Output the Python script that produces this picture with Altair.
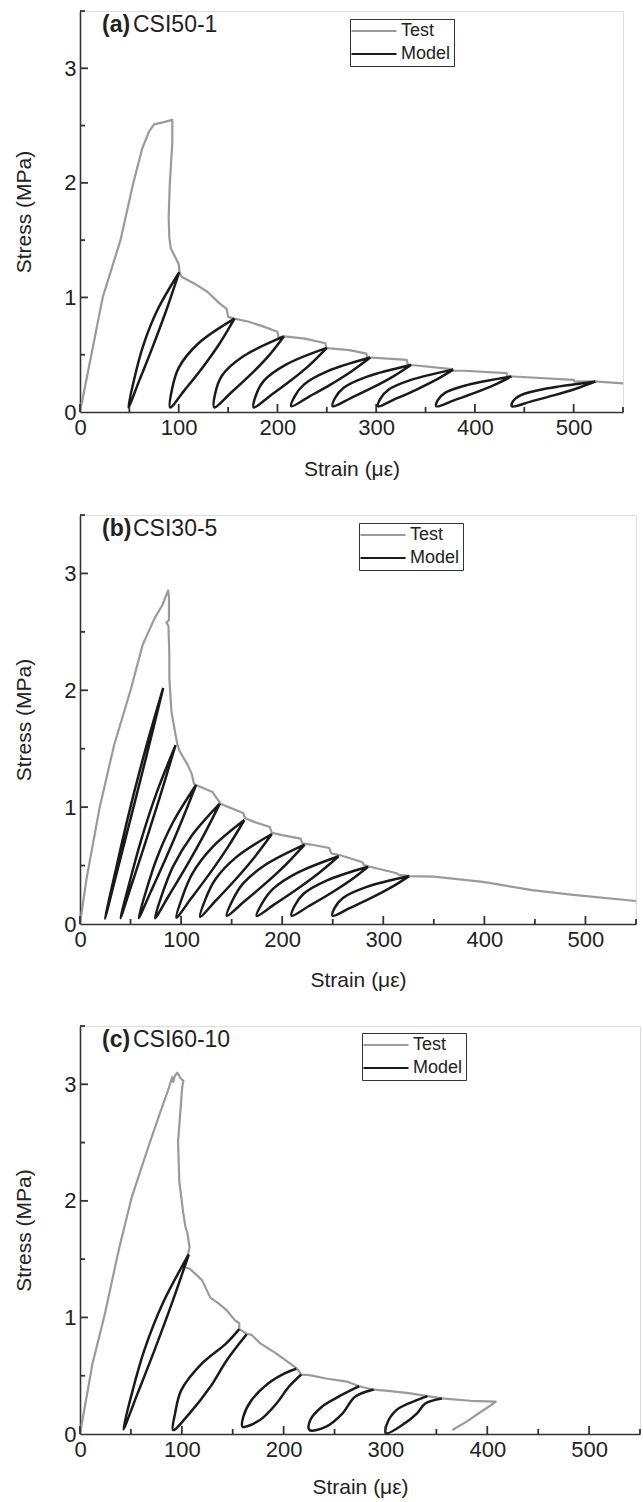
import altair as alt
import pandas as pd

FONT = "Liberation Sans"
TEXT_COLOR = "#222222"
AXIS_COLOR = "#333333"
TEST_COLOR = "#9a9a9a"
MODEL_COLOR = "#1a1a1a"

X_MAJOR = [0, 100, 200, 300, 400, 500]
X_MINOR = [50, 150, 250, 350, 450, 550]
Y_MAJOR = [0, 1, 2, 3]
Y_MINOR = [0.5, 1.5, 2.5, 3.5]

# ---------------- (a) CSI50-1 ----------------
test_a = [
    (0, 0), (23, 1.0), (41, 1.5), (54, 2.0), (63, 2.3), (70, 2.45),
    (75, 2.51), (85, 2.53), (93.5, 2.55), (93.5, 2.35), (91, 2.0), (89.8, 1.7),
    (90.5, 1.52), (92, 1.43), (96, 1.36), (100, 1.29), (101, 1.21), (103, 1.18),
    (116, 1.12), (129, 1.05), (141, 0.95), (148.6, 0.9), (150, 0.83), (156.5, 0.815),
    (170, 0.79), (186, 0.745), (200, 0.70), (201, 0.65), (207, 0.66), (228, 0.64),
    (248.6, 0.60), (249.5, 0.56), (253, 0.556), (273, 0.54), (290, 0.51), (291, 0.475),
    (296, 0.475), (331, 0.455), (332, 0.415), (336, 0.41), (376.6, 0.375), (378, 0.36),
    (389, 0.36), (432, 0.34), (433, 0.31), (438.5, 0.31), (500, 0.28), (501, 0.265),
    (521, 0.267), (550, 0.25),
]
model_a = [
    [(100.5, 1.22), (78.4, 0.89), (63.7, 0.571), (54.6, 0.276), (49, 0.04), (60.1, 0.276), (73.7, 0.571), (87.5, 0.89), (100.5, 1.22)],
    [(156.5, 0.815), (119.8, 0.598), (100.2, 0.389), (93.1, 0.195), (91.3, 0.04), (106.3, 0.195), (124.2, 0.389), (141.4, 0.598), (156.5, 0.815)],
    [(206.5, 0.66), (165.4, 0.486), (143.9, 0.319), (137.0, 0.164), (136, 0.04), (152.4, 0.164), (171.9, 0.319), (190.6, 0.486), (206.5, 0.66)],
    [(250, 0.56), (208.6, 0.414), (186.4, 0.274), (178.1, 0.144), (176, 0.04), (193.0, 0.144), (213.4, 0.274), (233.0, 0.414), (250, 0.56)],
    [(294, 0.475), (250.9, 0.356), (227.1, 0.241), (217.3, 0.135), (214, 0.05), (232.2, 0.135), (254.1, 0.241), (275.2, 0.356), (294, 0.475)],
    [(335.3, 0.41), (290.9, 0.309), (267.1, 0.212), (258.3, 0.122), (256, 0.05), (274.3, 0.122), (296.1, 0.212), (317.0, 0.309), (335.3, 0.41)],
    [(378, 0.37), (335.3, 0.28), (312.4, 0.194), (304.1, 0.114), (302, 0.05), (319.5, 0.114), (340.4, 0.194), (360.5, 0.28), (378, 0.37)],
    [(437, 0.31), (392.8, 0.237), (369.7, 0.167), (362.2, 0.102), (361, 0.05), (378.7, 0.102), (399.7, 0.167), (419.8, 0.237), (437, 0.31)],
    [(522, 0.265), (472.3, 0.205), (446.6, 0.147), (438.5, 0.093), (437.5, 0.05), (457.2, 0.093), (480.6, 0.147), (502.9, 0.205), (522, 0.265)],
]

# ---------------- (b) CSI30-5 ----------------
test_b = [
    (0, 0), (6.5, 0.39), (19.5, 1.0), (33.7, 1.53), (50, 2.0), (62, 2.39), (74, 2.62),
    (81.5, 2.73), (87.2, 2.855), (88, 2.8), (88, 2.6), (85.5, 2.58), (87.5, 2.55),
    (88.4, 2.3), (88.4, 2.1), (90.4, 1.82), (94.5, 1.62), (96.5, 1.53), (98.5, 1.48),
    (106.6, 1.36), (110.7, 1.28), (112.7, 1.2), (114.8, 1.19), (131, 1.13), (135, 1.08),
    (139, 1.03), (147, 1.0), (161.4, 0.95), (163.4, 0.905), (171.5, 0.876), (187.8, 0.83),
    (189.8, 0.78), (200, 0.76), (218.2, 0.73), (220, 0.69), (228.3, 0.68), (246.6, 0.65),
    (248.6, 0.605), (256.7, 0.59), (279, 0.53), (281, 0.505), (287, 0.49), (313.5, 0.434),
    (315.5, 0.42), (325.6, 0.41), (350, 0.405), (398.6, 0.36), (447.3, 0.29), (488, 0.25),
    (550, 0.197),
]
model_b = [
    [(82.3, 2.02), (63.9, 1.467), (48.0, 0.934), (34.8, 0.44), (24.7, 0.045), (36.4, 0.44), (51.0, 0.934), (66.6, 1.467), (82.3, 2.02)],
    [(94.5, 1.53), (75.5, 1.116), (60.4, 0.716), (48.7, 0.346), (40.1, 0.05), (51.4, 0.346), (65.4, 0.716), (80.0, 1.116), (94.5, 1.53)],
    [(114.8, 1.19), (92.0, 0.871), (76.0, 0.563), (65.2, 0.278), (58, 0.05), (70.1, 0.278), (84.9, 0.563), (100.1, 0.871), (114.8, 1.19)],
    [(138.3, 1.03), (110.5, 0.756), (92.0, 0.491), (80.9, 0.246), (74.2, 0.05), (88.1, 0.246), (105.0, 0.491), (122.2, 0.756), (138.3, 1.03)],
    [(162.6, 0.89), (130.8, 0.656), (111.1, 0.431), (100.9, 0.222), (95.3, 0.055), (110.2, 0.222), (128.2, 0.431), (146.1, 0.656), (162.6, 0.89)],
    [(189.8, 0.77), (154.6, 0.572), (133.8, 0.381), (123.7, 0.204), (118.8, 0.063), (134.7, 0.204), (153.8, 0.381), (172.6, 0.572), (189.8, 0.77)],
    [(222.2, 0.68), (183.8, 0.509), (161.2, 0.345), (150.3, 0.192), (145.2, 0.07), (162.4, 0.192), (183.2, 0.345), (203.6, 0.509), (222.2, 0.68)],
    [(255.9, 0.58), (214.8, 0.437), (190.9, 0.30), (179.8, 0.172), (174.8, 0.07), (193.0, 0.172), (214.9, 0.30), (236.4, 0.437), (255.9, 0.58)],
    [(285, 0.49), (243.9, 0.372), (221.2, 0.259), (212.2, 0.154), (209.2, 0.07), (226.5, 0.154), (247.2, 0.259), (267.3, 0.372), (285, 0.49)],
    [(325.6, 0.41), (283.0, 0.315), (260.1, 0.223), (251.9, 0.138), (249.8, 0.07), (267.3, 0.138), (288.1, 0.223), (308.2, 0.315), (325.6, 0.41)],
]

# ---------------- (c) CSI60-10 ----------------
test_c = [
    (0, 0), (12.2, 0.6), (24.4, 1.03), (38.6, 1.6), (50.8, 2.03), (67, 2.46), (79.2, 2.77),
    (87.3, 2.97), (89.4, 3.03), (90.5, 3.06), (91.5, 3.02), (93, 3.07), (95.5, 3.10),
    (99, 3.05), (101.5, 3.03), (100.3, 2.97), (98, 2.7), (96.3, 2.51), (97.5, 2.17),
    (101.5, 1.89), (103.5, 1.78), (105.6, 1.72), (107.6, 1.6), (105, 1.5), (103, 1.43),
    (107.6, 1.42), (119.8, 1.32), (128, 1.17), (136, 1.12), (144.2, 1.06), (152.3, 0.975),
    (156.4, 0.95), (156.4, 0.90), (163.7, 0.86), (168.6, 0.85), (176.7, 0.78), (193, 0.69),
    (207.1, 0.60), (213.2, 0.56), (217.3, 0.51), (225.4, 0.505), (241.7, 0.476), (262, 0.45),
    (274.2, 0.41), (288.4, 0.38), (302.6, 0.37), (322.9, 0.35), (341.2, 0.325), (355.4, 0.305),
    (363.5, 0.30), (383.8, 0.285), (408.2, 0.277), (404.1, 0.25), (392, 0.18), (379.8, 0.106),
    (365.6, 0.034),
]
model_c = [
    [(106.8, 1.54), (81.2, 1.12), (63.0, 0.715), (50.7, 0.34), (42.6, 0.04), (56.2, 0.34), (73.0, 0.715), (90.2, 1.12), (106.8, 1.54)],
    [(156.4, 0.90), (143.4, 0.776), (119.8, 0.605), (99.5, 0.376), (93.4, 0.177), (91.4, 0.034), (107.6, 0.177), (128, 0.405), (144.2, 0.633), (163.7, 0.855)],
    [(212.4, 0.56), (201, 0.52), (184.8, 0.433), (168.6, 0.291), (160.4, 0.148), (159.6, 0.063), (176.7, 0.12), (193, 0.262), (205.1, 0.405), (217.3, 0.51)],
    [(274.2, 0.41), (253.9, 0.32), (237.6, 0.234), (226.2, 0.12), (225.4, 0.034), (241.7, 0.063), (257.9, 0.177), (270.1, 0.32), (288.4, 0.382)],
    [(341.2, 0.325), (322.9, 0.262), (310.7, 0.205), (301, 0.077), (300.6, 0.006), (318.8, 0.091), (331, 0.177), (339.1, 0.262), (355.4, 0.305)],
]


def panel(tag, name, test, loops, width, height, legend_xy, x_title_pad):
    t = pd.DataFrame(test, columns=["strain", "stress"])
    t["idx"] = range(len(t))
    t["series"] = "Test"

    rows = []
    for k, loop in enumerate(loops):
        for i, (x, y) in enumerate(loop):
            rows.append({"strain": x, "stress": y, "loop": k, "idx": i, "series": "Model"})
    m = pd.DataFrame(rows)

    xs = alt.Scale(domain=[0, 550], nice=False, zero=False)
    ys = alt.Scale(domain=[0, 3.5], nice=False, zero=False)

    x_axis = alt.Axis(
        title="Strain (με)", values=X_MAJOR, format="d", ticks=False, tickSize=0, grid=False,
        domainColor=AXIS_COLOR, domainWidth=1.6, labelFont=FONT, labelFontSize=22,
        labelColor=TEXT_COLOR, labelPadding=5, labelFlush=False, titleFont=FONT,
        titleFontSize=21, titleFontWeight="normal", titleColor=TEXT_COLOR,
        titlePadding=x_title_pad,
    )
    y_axis = alt.Axis(
        title="Stress (MPa)", values=Y_MAJOR, format="d", ticks=False, tickSize=0, grid=False,
        domainColor=AXIS_COLOR, domainWidth=1.6, labelFont=FONT, labelFontSize=22,
        labelColor=TEXT_COLOR, labelPadding=4, labelFlush=False, titleFont=FONT,
        titleFontSize=21, titleFontWeight="normal", titleColor=TEXT_COLOR,
        titlePadding=29,
    )
    X = alt.X("strain:Q", scale=xs, axis=x_axis)
    Y = alt.Y("stress:Q", scale=ys, axis=y_axis)

    legend = alt.Legend(
        title=None, orient="none", legendX=legend_xy[0], legendY=legend_xy[1],
        direction="vertical", strokeColor=AXIS_COLOR, fillColor="white", padding=3,
        symbolType="M-3,0H3", symbolSize=225, symbolStrokeWidth=2.2, symbolOffset=12,
        labelOffset=18, labelFont=FONT, labelFontSize=18, labelColor=TEXT_COLOR,
        rowPadding=5,
    )
    color = alt.Color(
        "series:N",
        scale=alt.Scale(domain=["Test", "Model"], range=[TEST_COLOR, MODEL_COLOR]),
        legend=legend,
    )

    test_line = alt.Chart(t).mark_line(strokeWidth=2.2, strokeJoin="round").encode(
        x=X, y=Y, color=color, order=alt.Order("idx:Q")
    )
    model_line = alt.Chart(m).mark_line(
        strokeWidth=2.5, interpolate="catmull-rom", strokeJoin="round"
    ).encode(x=X, y=Y, color=color, detail="loop:N", order=alt.Order("idx:Q"))

    # inward ticks on both axes
    tick_style = dict(color=AXIS_COLOR, strokeWidth=1.8)
    xt_major = alt.Chart(pd.DataFrame({"strain": X_MAJOR})).mark_rule(**tick_style).encode(
        x=alt.X("strain:Q", scale=xs), y=alt.value(height), y2=alt.value(height - 8)
    )
    xt_minor = alt.Chart(pd.DataFrame({"strain": X_MINOR})).mark_rule(**tick_style).encode(
        x=alt.X("strain:Q", scale=xs), y=alt.value(height), y2=alt.value(height - 5)
    )
    yt_major = alt.Chart(pd.DataFrame({"stress": Y_MAJOR[1:]})).mark_rule(**tick_style).encode(
        y=alt.Y("stress:Q", scale=ys), x=alt.value(0), x2=alt.value(8)
    )
    yt_minor = alt.Chart(pd.DataFrame({"stress": Y_MINOR})).mark_rule(**tick_style).encode(
        y=alt.Y("stress:Q", scale=ys), x=alt.value(0), x2=alt.value(5)
    )

    tag_text = alt.Chart(pd.DataFrame({"t": [tag]})).mark_text(
        font=FONT, fontSize=23, fontWeight="bold", align="left", baseline="alphabetic",
        color=TEXT_COLOR,
    ).encode(text="t:N", x=alt.value(22), y=alt.value(21))
    name_text = alt.Chart(pd.DataFrame({"t": [name]})).mark_text(
        font=FONT, fontSize=23, align="left", baseline="alphabetic", color=TEXT_COLOR,
    ).encode(text="t:N", x=alt.value(22 + 31), y=alt.value(21))

    return alt.layer(
        test_line, model_line, xt_major, xt_minor, yt_major, yt_minor, tag_text, name_text
    ).properties(width=width, height=height)


pa = panel("(a)", "CSI50-1", test_a, model_a, 543, 401, (270, 8), 20)
pb = panel("(b)", "CSI30-5", test_b, model_b, 556, 409, (279, 8), 19)
pc = panel("(c)", "CSI60-10", test_c, model_c, 560, 408, (282, 7), 16)

chart = (
    alt.concat(pa, pb, pc, columns=1, spacing=33)
    .resolve_scale(color="independent")
    .properties(padding={"left": 13, "top": 9, "right": 0, "bottom": 0}, background="white")
    .configure_view(stroke=None)
    .configure(font=FONT)
)

chart.save("out.html", embed_options={"renderer": "svg", "actions": False})
